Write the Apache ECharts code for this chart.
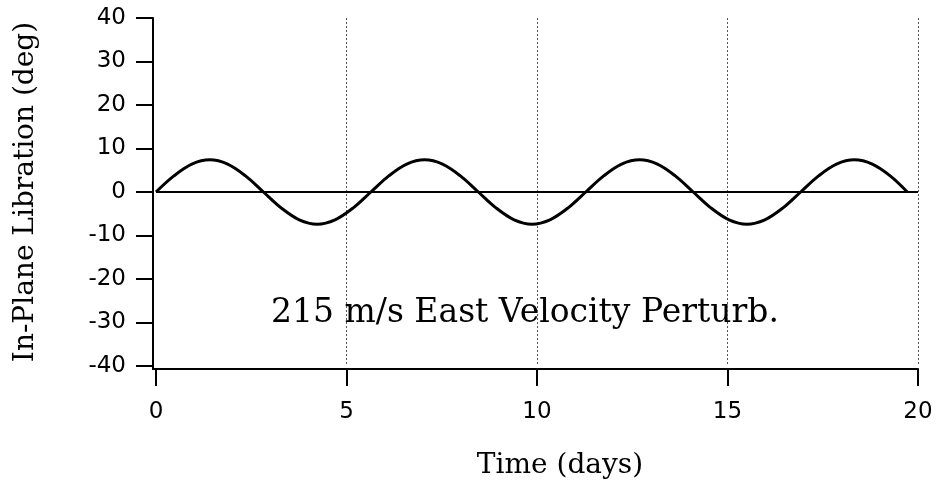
<!DOCTYPE html>
<html>
<head>
<meta charset="utf-8">
<script src="https://cdn.jsdelivr.net/npm/echarts@6/dist/echarts.min.js"></script>
<style>
html,body{margin:0;padding:0;background:#fff;}
#chart{width:937px;height:487px;}
</style>
</head>
<body>
<div id="chart"></div>
<script>
// Data
var days = [0, 0.47, 0.94, 1.41, 1.88, 2.35, 2.82, 3.29, 3.76, 4.23, 4.70, 5.17,
            5.64, 6.11, 6.58, 7.05, 7.52, 7.99, 8.46, 8.93, 9.40, 9.87, 10.34, 10.81,
            11.28, 11.75, 12.22, 12.69, 13.16, 13.63, 14.10, 14.57, 15.04, 15.51, 15.98, 16.45,
            16.92, 17.39, 17.86, 18.33, 18.80, 19.27, 19.72];
var libration = [0, 3.7, 6.4, 7.4, 6.4, 3.7, 0, -3.7, -6.4, -7.4, -6.4, -3.7,
                 0, 3.7, 6.4, 7.4, 6.4, 3.7, 0, -3.7, -6.4, -7.4, -6.4, -3.7,
                 0, 3.7, 6.4, 7.4, 6.4, 3.7, 0, -3.7, -6.4, -7.4, -6.4, -3.7,
                 0, 3.7, 6.4, 7.4, 6.4, 3.7, 0];
var xTicks = [0, 5, 10, 15, 20];
var yTicks = [-40, -30, -20, -10, 0, 10, 20, 30, 40];
var xTitle = 'Time (days)';
var yTitle = 'In-Plane Libration (deg)';
var note = '215 m/s East Velocity Perturb.';

var points = days.map(function (d, i) { return [d, libration[i]]; });

var chart = echarts.init(document.getElementById('chart'), null, {renderer: 'canvas'});
chart.setOption({
  animation: false,
  backgroundColor: '#ffffff',
  grid: {left: 156, right: 19, top: 18, bottom: 121, containLabel: false},
  xAxis: {
    type: 'value',
    min: xTicks[0], max: xTicks[xTicks.length - 1], interval: 5,
    offset: 3,
    name: xTitle,
    nameLocation: 'middle',
    nameGap: 83,
    nameTextStyle: {fontFamily: 'DejaVu Serif', fontSize: 28, color: '#000', verticalAlign: 'top', padding: [0, 0, 0, 46]},
    axisLine: {show: true, onZero: false, lineStyle: {color: '#000', width: 2}},
    axisTick: {show: true, inside: false, length: 17, lineStyle: {color: '#000', width: 2}},
    axisLabel: {margin: 32, fontFamily: 'DejaVu Sans', fontSize: 23, color: '#000'},
    splitLine: {show: true, showMinLine: false, lineStyle: {color: '#555', width: 1, type: [2, 2]}}
  },
  yAxis: {
    type: 'value',
    min: yTicks[0], max: yTicks[yTicks.length - 1], interval: 10,
    offset: 3,
    name: yTitle,
    nameLocation: 'middle',
    nameGap: 113,
    nameTextStyle: {fontFamily: 'DejaVu Serif', fontSize: 28, color: '#000'},
    axisLine: {show: true, onZero: false, lineStyle: {color: '#000', width: 2}},
    axisTick: {show: true, inside: false, length: 17, lineStyle: {color: '#000', width: 2}},
    axisLabel: {margin: 27, fontFamily: 'DejaVu Sans', fontSize: 23, color: '#000'},
    splitLine: {show: false}
  },
  graphic: [{
    type: 'text',
    x: 525,
    y: 313,
    style: {
      text: note,
      align: 'center', verticalAlign: 'middle',
      font: '33px "DejaVu Serif"',
      fill: '#000'
    }
  }, {
    type: 'line',
    shape: {x1: 153, y1: 365, x2: 153, y2: 370},
    style: {stroke: '#000', lineWidth: 2}
  }, {
    type: 'line',
    shape: {x1: 152, y1: 369, x2: 157, y2: 369},
    style: {stroke: '#000', lineWidth: 2}
  }],
  series: [{
    type: 'line',
    data: points,
    smooth: 0.35,
    showSymbol: false,
    symbol: 'none',
    lineStyle: {color: '#000', width: 3},
    markLine: {
      silent: true,
      symbol: 'none',
      label: {show: false},
      lineStyle: {color: '#000', width: 1.8, type: 'solid'},
      data: [{yAxis: 0}]
    },
    z: 3
  }]
});
</script>
</body>
</html>
